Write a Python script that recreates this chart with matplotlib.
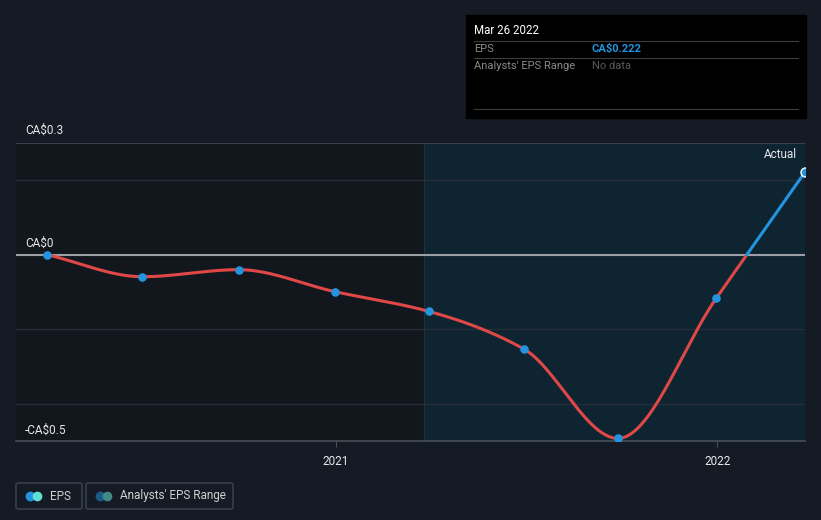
import matplotlib
matplotlib.use("Agg")
import matplotlib.pyplot as plt
import matplotlib.dates as mdates
from matplotlib.patches import Rectangle, FancyBboxPatch
import numpy as np
import pandas as pd

# EPS history (CA$)
dates = pd.to_datetime([
    "2020-03-31", "2020-06-30", "2020-09-30", "2020-12-31", "2021-03-31",
    "2021-06-30", "2021-09-28", "2021-12-31", "2022-03-26",
])
eps = [0.0, -0.059, -0.04, -0.099, -0.152, -0.253, -0.493, -0.117, 0.222]
y_ticks = [0.3, 0.0, -0.5]
y_tick_labels = ["CA$0.3", "CA$0", "-CA$0.5"]
x_ticks = pd.to_datetime(["2021-01-01", "2022-01-01"])
x_tick_labels = ["2021", "2022"]

BG = "#151b24"
RED = "#e04848"
BLUE = "#2394df"


def pchip(x, y, xs):
    """monotone cubic so the curve looks like the site's smoothing"""
    x = np.asarray(x, float)
    y = np.asarray(y, float)
    h = np.diff(x)
    d = np.diff(y) / h
    m = np.zeros_like(y)
    for k in range(1, len(y) - 1):
        if d[k - 1] * d[k] > 0:
            w1 = 2 * h[k] + h[k - 1]
            w2 = h[k] + 2 * h[k - 1]
            m[k] = (w1 + w2) / (w1 / d[k - 1] + w2 / d[k])
    m[0] = d[0]
    m[-1] = d[-1]
    idx = np.clip(np.searchsorted(x, xs) - 1, 0, len(h) - 1)
    t = (xs - x[idx]) / h[idx]
    h00 = 2 * t**3 - 3 * t**2 + 1
    h10 = t**3 - 2 * t**2 + t
    h01 = -2 * t**3 + 3 * t**2
    h11 = t**3 - t**2
    return (h00 * y[idx] + h10 * h[idx] * m[idx]
            + h01 * y[idx + 1] + h11 * h[idx] * m[idx + 1])


xn = mdates.date2num(dates)
xs = np.linspace(xn[0], xn[-1], 1500)
ys = pchip(xn, eps, xs)

fig = plt.figure(figsize=(8.21, 5.2), dpi=100)
fig.patch.set_facecolor(BG)
W, H = 821, 520
ax = fig.add_axes([16 / W, (H - 441) / H, 789 / W, 298 / H])
ax.set_facecolor("#12161d")

x0 = xn[0] - 30
ax.set_xlim(x0, xn[-1])
ax.set_ylim(-0.5, 0.3)

# shaded last-12-months region
ax.axvspan(xn[-1] - 365, xn[-1], color="#0e2431", zorder=0)
ax.axvline(xn[-1] - 365, color="#1b3440", lw=0.8, zorder=0)

for g in [0.2, -0.2, -0.4]:
    ax.axhline(g, color="#262d36", lw=1, zorder=1)
ax.axhline(0.3, color="#3a4049", lw=1.5, zorder=1)
ax.axhline(0, color="#9aa0a6", lw=1.5, zorder=2)

neg = np.where(ys <= 0, ys, np.nan)
pos = np.where(ys >= 0, ys, np.nan)
ax.plot(xs, neg, color=RED, lw=2.2, zorder=3, solid_capstyle="round")
ax.plot(xs, pos, color=BLUE, lw=2.2, zorder=3, solid_capstyle="round")
ax.scatter(xn[:-1], eps[:-1], s=38, color=BLUE, zorder=4, linewidths=0)
ax.scatter(xn[-1:], eps[-1:], s=42, color=BLUE, zorder=4,
           edgecolors="white", linewidths=1)

for s in ["top", "right", "left"]:
    ax.spines[s].set_visible(False)
ax.spines["bottom"].set_color("#4a5058")
ax.spines["bottom"].set_linewidth(1.2)
ax.set_yticks([])
ax.set_xticks(mdates.date2num(x_ticks))
ax.set_xticklabels(x_tick_labels, color="#e8e8e8", fontsize=8.5, family="Roboto")
ax.tick_params(axis="x", length=4, color="#4a5058", pad=6)

# y labels sit above their gridlines, placed in pixels
for lab, py in zip(y_tick_labels, [130, 243, 430]):
    fig.text(25 / W, (H - py) / H, lab, color="#e8e8e8", fontsize=8.5,
             family="Roboto", va="center")

fig.text(797 / W, (H - 154) / H, "Actual", color="#e8e8e8", fontsize=8.5,
         family="Roboto", ha="right", va="center")

# tooltip box
fig.patches.append(Rectangle((466 / W, (H - 118) / H), 340 / W, 103 / H,
                             transform=fig.transFigure, color="black", zorder=5))
for py in [41, 58, 109]:
    fig.add_artist(plt.Line2D([474 / W, 798 / W], [(H - py) / H] * 2,
                              color="#3c3c3c", lw=0.8, zorder=6))
fig.text(474 / W, (H - 31) / H, "Mar 26 2022", color="white", fontsize=8.3,
         family="Roboto", va="center", zorder=7)
fig.text(474 / W, (H - 49) / H, "EPS", color="#8a8a8a", fontsize=8,
         family="Roboto", va="center", zorder=7)
fig.text(592 / W, (H - 49) / H, "CA$0.222", color=BLUE, fontsize=8,
         family="Roboto", fontweight="bold", va="center", zorder=7)
fig.text(474 / W, (H - 66) / H, "Analysts' EPS Range", color="#8a8a8a",
         fontsize=8, family="Roboto", va="center", zorder=7)
fig.text(592 / W, (H - 66) / H, "No data", color="#5a5a5a", fontsize=8,
         family="Roboto", va="center", zorder=7)

# legend
for bx, bw, c1, c2, lab in [(16, 66, BLUE, "#5fe0d0", "EPS"),
                            (86, 147, "#1e5a88", "#3f8a84", "Analysts' EPS Range")]:
    fig.patches.append(FancyBboxPatch((bx / W, (H - 509) / H), bw / W, 26 / H,
                                      boxstyle="round,pad=0,rounding_size=0.003",
                                      transform=fig.transFigure, facecolor="none",
                                      edgecolor="#3f454e", lw=1))
    fig.add_artist(plt.Line2D([(bx + 14) / W], [(H - 496) / H], marker="o",
                              ms=7, color=c1, mew=0))
    fig.add_artist(plt.Line2D([(bx + 21) / W], [(H - 496) / H], marker="o",
                              ms=7, color=c2, mew=0))
    fig.text((bx + 34) / W, (H - 496) / H, lab, color="#d0d0d0", fontsize=8.5,
             family="Roboto", va="center")

fig.savefig("out.png", dpi=100, facecolor=BG)
